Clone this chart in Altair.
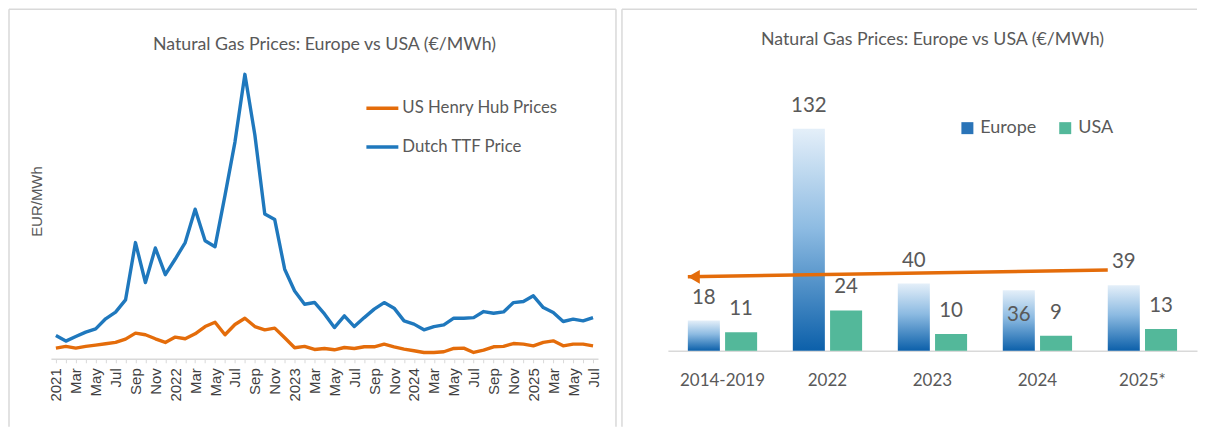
import altair as alt
import pandas as pd

# ---------------- data ----------------
months = [d.strftime("%Y-%m") for d in pd.date_range("2021-01-01", "2025-07-01", freq="MS")]

ttf_price = [19.2, 14.6, 18.4, 22.0, 24.7, 33.0, 38.5, 48.6, 96.0, 63.0, 91.5, 69.5,
             82.4, 96.0, 123.6, 97.5, 92.6, 135.0, 179.0, 235.0, 185.0, 119.5, 115.0, 74.0,
             56.0, 45.0, 46.5, 37.0, 25.8, 35.4, 26.6, 34.0, 41.0, 46.4, 41.8, 31.3,
             28.6, 23.9, 26.6, 28.0, 33.5, 33.5, 34.0, 39.0, 37.6, 38.7, 46.4, 47.3,
             52.0, 42.3, 38.2, 30.8, 32.7, 31.3, 34.0]
hh_price = [8.8, 10.2, 8.8, 10.2, 11.3, 12.4, 13.5, 16.2, 21.2, 19.8, 16.5, 13.5,
            17.9, 16.5, 20.6, 26.6, 30.2, 19.8, 28.3, 33.5, 26.6, 23.9, 25.3, 17.3,
            9.1, 10.2, 7.7, 8.5, 7.4, 9.3, 8.5, 9.9, 9.9, 12.1, 9.9, 8.0,
            6.6, 5.2, 5.2, 5.8, 8.5, 8.8, 5.2, 7.1, 9.9, 10.2, 12.6, 12.1,
            10.7, 13.5, 14.8, 10.7, 12.1, 12.1, 10.7]
line_series = ["US Henry Hub Prices", "Dutch TTF Price"]

periods = ["2014-2019", "2022", "2023", "2024", "2025*"]
europe = [18, 132, 40, 36, 39]
usa = [11, 24, 10, 9, 13]
bar_series = ["Europe", "USA"]

arrow_periods = ["2025*", "2014-2019"]
arrow_values = [48, 44]

TITLE = "Natural Gas Prices: Europe vs USA (€/MWh)"

# ---------------- styles ----------------
FONT = "Lato"
AXFONT = "Liberation Sans"
GRAY = "#595959"
DARK = "#404040"
FRAME = "#d9d9d9"
ORANGE = "#e46c0a"
BLUE = "#1f78bd"
GREEN = "#53b89a"

line_df = pd.DataFrame({
    "month": months * 2,
    "price": ttf_price + hh_price,
    "series": [line_series[1]] * len(months) + [line_series[0]] * len(months),
})
bar_df = pd.DataFrame({
    "period": periods * 2,
    "value": europe + usa,
    "series": [bar_series[0]] * len(periods) + [bar_series[1]] * len(periods),
})
arrow_df = pd.DataFrame({"period": arrow_periods, "value": arrow_values})

one = alt.Data(values=[{}])

# ---------------- left chart ----------------
W1, H1 = 548, 291
fr1 = alt.Chart(one).mark_rule(color=FRAME, strokeWidth=1.5)
f1a = fr1.encode(x=alt.value(-42), y=alt.value(-59), y2=alt.value(359))
f1b = fr1.encode(x=alt.value(-42), x2=alt.value(566), y=alt.value(-59))
f1c = fr1.encode(x=alt.value(566), y=alt.value(-59), y2=alt.value(359))

month_label = (
    "toNumber(substring(datum.value,5,7))==1 ? substring(datum.value,0,4) : "
    "(toNumber(substring(datum.value,5,7))%2==1 ? "
    "['Jan','Feb','Mar','Apr','May','Jun','Jul','Aug','Sep','Oct','Nov','Dec']"
    "[toNumber(substring(datum.value,5,7))-1] : '')"
)

lines = alt.Chart(line_df).mark_line(strokeWidth=3.4, strokeJoin="round").encode(
    x=alt.X("month:O", sort=months,
            scale=alt.Scale(type="point", padding=0.5),
            axis=alt.Axis(title=None, labelAngle=-90, labelExpr=month_label,
                          labelFont=AXFONT, labelFontSize=15, labelColor=DARK,
                          labelPadding=5, tickSize=4, tickColor=FRAME,
                          domainColor=FRAME, domainWidth=1.5, grid=False,
                          labelOverlap=False)),
    y=alt.Y("price:Q", scale=alt.Scale(domain=[0, 240]),
            axis=alt.Axis(labels=False, ticks=False, domain=False, grid=False,
                          title="EUR/MWh", titleFont=AXFONT, titleFontSize=15,
                          titleFontWeight="normal", titleColor=GRAY,
                          titleX=-14, titleY=133, titleBaseline="middle")),
    color=alt.Color("series:N",
                    scale=alt.Scale(domain=line_series, range=[ORANGE, BLUE]),
                    legend=alt.Legend(title=None, orient="none", legendX=314, legendY=22,
                                      symbolType="stroke", symbolSize=1024,
                                      symbolStrokeWidth=3.5, labelFont=FONT,
                                      labelFontSize=16.8, labelColor=GRAY,
                                      rowPadding=12, labelOffset=2, padding=0)),
)

left = alt.layer(f1a, f1b, f1c, lines).properties(
    width=W1, height=H1,
    title=alt.TitleParams(TITLE, font=FONT, fontSize=17.8, fontWeight="normal",
                          color=GRAY, offset=-44.8, anchor="middle"),
)

# ---------------- right chart ----------------
W2, H2 = 530, 283
fr2 = alt.Chart(one).mark_rule(color=FRAME, strokeWidth=1.5)
f2a = fr2.encode(x=alt.value(-46), y=alt.value(-59), y2=alt.value(359))
f2b = fr2.encode(x=alt.value(-46), x2=alt.value(W2), y=alt.value(-59))

xscale = alt.Scale(domain=periods, paddingInner=0.34, paddingOuter=0.19)
xaxis = alt.Axis(title=None, labelAngle=0, labelFont=FONT, labelFontSize=17,
                 labelColor=GRAY, labelPadding=22, ticks=False, tickSize=0,
                 domainColor=FRAME, domainWidth=1.5, grid=False)
X = alt.X("period:N", sort=periods, scale=xscale, axis=xaxis)
XA = alt.X("period:N", sort=periods, scale=xscale, axis=xaxis, bandPosition=0)
Y = alt.Y("value:Q", scale=alt.Scale(domain=[0, 168]), axis=None)
XO = alt.XOffset("series:N", scale=alt.Scale(domain=bar_series, paddingInner=0.14))

grad = alt.Gradient(
    gradient="linear", x1=0, x2=0, y1=0, y2=1,
    stops=[alt.GradientStop(color="#e4eff9", offset=0),
           alt.GradientStop(color="#8dbbe2", offset=0.45),
           alt.GradientStop(color="#0c60aa", offset=1)],
)

base2 = alt.Chart(bar_df)
eu_bars = base2.transform_filter("datum.series == 'Europe'").mark_bar(fill=grad).encode(
    x=X, y=Y, xOffset=XO)
us_bars = base2.transform_filter("datum.series == 'USA'").mark_bar().encode(
    x=X, y=Y, xOffset=XO,
    color=alt.Color("series:N",
                    scale=alt.Scale(domain=bar_series, range=["#2a74b8", GREEN]),
                    legend=alt.Legend(title=None, orient="none", direction="horizontal",
                                      legendX=291, legendY=51, symbolType="square",
                                      symbolSize=144, symbolStrokeWidth=0,
                                      labelFont=FONT, labelFontSize=18, labelColor=GRAY,
                                      columnPadding=19, labelOffset=4, padding=0)),
)

txt = dict(font=FONT, fontSize=20.5, color=GRAY, baseline="middle")
eu_lab = base2.transform_filter(
    "datum.series == 'Europe' && datum.period != '2024'").mark_text(dy=-23, **txt).encode(
    x=X, y=Y, xOffset=XO, text="value:Q")
eu_lab_in = base2.transform_filter(
    "datum.series == 'Europe' && datum.period == '2024'").mark_text(dy=25, **txt).encode(
    x=X, y=Y, xOffset=XO, text="value:Q")
us_lab = base2.transform_filter("datum.series == 'USA'").mark_text(dy=-23, **txt).encode(
    x=X, y=Y, xOffset=XO, text="value:Q")

arrow_line = alt.Chart(arrow_df).mark_line(color=ORANGE, strokeWidth=3.5).encode(
    x=XA, y=Y)
arrow_head = alt.Chart(arrow_df).transform_filter(
    "datum.period == '2014-2019'").mark_point(
    shape="triangle-left", filled=True, size=190, color=ORANGE, opacity=1, xOffset=6).encode(
    x=XA, y=Y)

right = alt.layer(f2a, f2b, eu_bars, us_bars, eu_lab, eu_lab_in, us_lab,
                  arrow_line, arrow_head).properties(
    width=W2, height=H2,
    title=alt.TitleParams(TITLE, font=FONT, fontSize=17.8, fontWeight="normal",
                          color=GRAY, offset=-39.8, anchor="middle"),
)

chart = alt.hconcat(left, right, spacing=4).resolve_scale(
    color="independent"
).resolve_legend(color="independent").properties(
    padding=0, background="white"
).configure_view(strokeWidth=0)

chart.save("out.html", embed_options={"renderer": "svg", "actions": False})
